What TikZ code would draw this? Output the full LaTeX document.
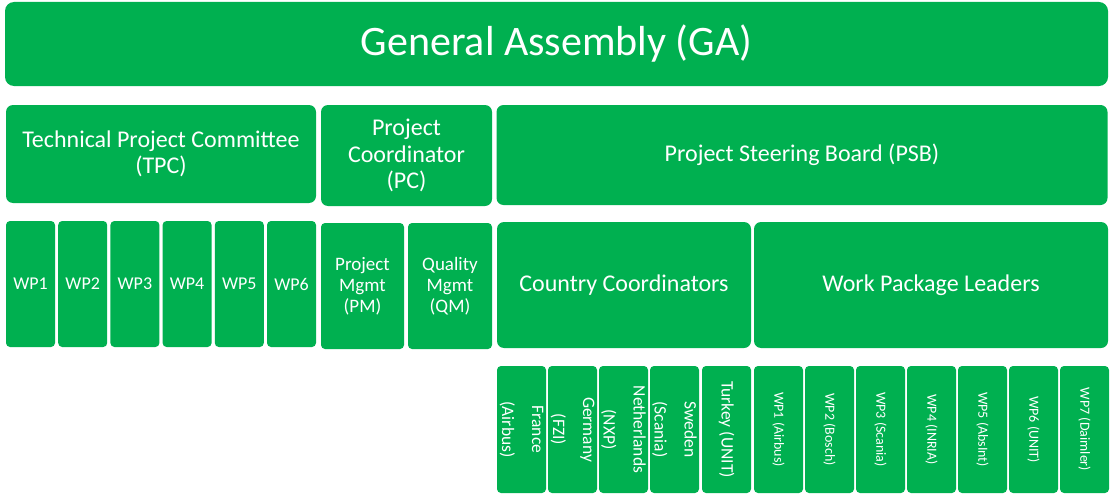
\documentclass[tikz,border=0pt]{standalone}
\usepackage{fontspec}
\setmainfont{Carlito}
\definecolor{gagreen}{HTML}{00B050}
\tikzset{
  box/.style={fill=gagreen, text=white, align=center, inner sep=0pt, rounded corners=7pt},
  small/.style={box, rounded corners=4pt}
}
\begin{document}
\begin{tikzpicture}[x=1pt, y=-1pt]
    \useasboundingbox (0,0) rectangle (1111,495);

    % Asamblea general
    \node[box, rounded corners=9pt, minimum width=1103, minimum height=84, font=\fontsize{42}{48}\selectfont] (ga) at (556.5,44) {General Assembly (GA)};

    % Segundo nivel
    \node[box, minimum width=310, minimum height=98, font=\fontsize{24}{26.5}\selectfont] (tpc) at (161,154) {Technical Project Committee\\(TPC)};
    \node[box, minimum width=171, minimum height=101, font=\fontsize{24}{26.5}\selectfont] (pc) at (406.5,155.5) {Project\\Coordinator\\(PC)};
    \node[box, minimum width=611, minimum height=100, font=\fontsize{24}{26.5}\selectfont] (psb) at (802,155) {Project Steering Board (PSB)};

    % Paquetes de trabajo del TPC
    \foreach \i in {1,...,6}
      \node[small, minimum width=49, minimum height=126, font=\fontsize{18}{20}\selectfont] (wp\i) at ({30.5+(\i-1)*52.2},284) {WP\i};

    % Gestion
    \node[small, minimum width=83, minimum height=126, font=\fontsize{19}{21}\selectfont] (pm) at (362.5,286) {Project\\Mgmt\\(PM)};
    \node[small, minimum width=84, minimum height=126, font=\fontsize{19}{21}\selectfont] (qm) at (450,286) {Quality\\Mgmt\\(QM)};

    % Coordinadores y lideres
    \node[box, minimum width=254, minimum height=126, font=\fontsize{24}{26.5}\selectfont] (cc) at (624,285) {Country Coordinators};
    \node[box, minimum width=354, minimum height=126, font=\fontsize{24}{26.5}\selectfont] (wpl) at (931,285) {Work Package Leaders};

    % Paises
    \foreach \x/\name/\txt in {521.5/fr/{France\\(Airbus)}, 572.5/de/{Germany\\(FZI)}, 623.5/nl/{Netherlands\\(NXP)}, 674.5/se/{Sweden\\(Scania)}, 726.5/tr/{Turkey (UNIT)}}
      \node[small, rotate=-90, minimum width=127, minimum height=49, font=\fontsize{17.5}{30}\selectfont] (\name) at (\x,429.5) {\txt};

    % Lideres de paquete
    \foreach \i/\who in {1/Airbus, 2/Bosch, 3/Scania, 4/INRIA, 5/AbsInt, 6/UNIT, 7/Daimler}
      \node[small, rotate=-90, minimum width=127, minimum height=49, font=\fontsize{14}{16}\selectfont] (lead\i) at ({778.5+(\i-1)*51},429.5) {WP\i\ (\who)};
  \end{tikzpicture}
\end{document}
